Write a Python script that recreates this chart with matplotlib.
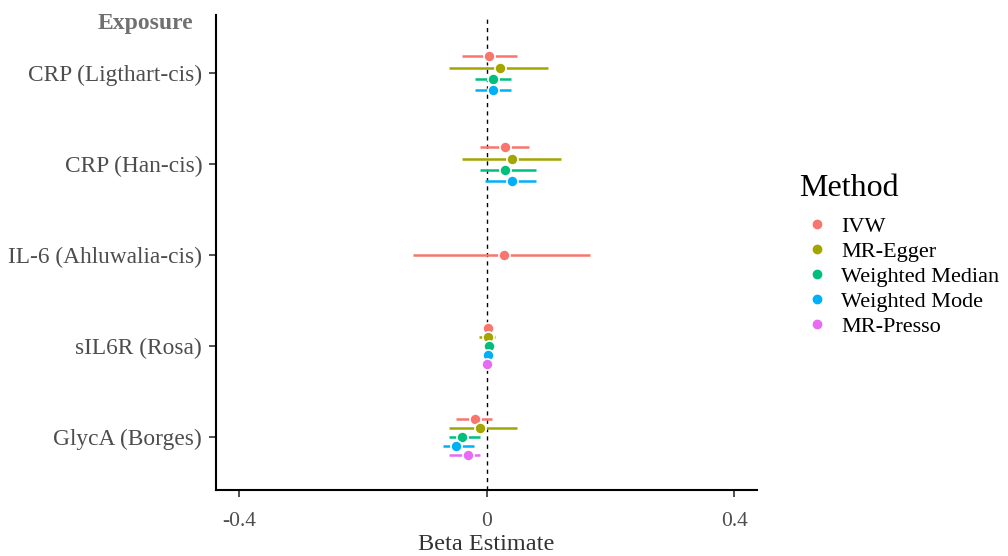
import matplotlib
matplotlib.use("Agg")
import matplotlib.pyplot as plt
from matplotlib.lines import Line2D
import numpy as np

plt.rcParams['font.family'] = ['Liberation Serif', 'DejaVu Serif']

# Datos
exposures = ["CRP (Ligthart-cis)", "CRP (Han-cis)", "IL-6 (Ahluwalia-cis)",
             "sIL6R (Rosa)", "GlycA (Borges)"]
methods = ["IVW", "MR-Egger", "Weighted Median", "Weighted Mode", "MR-Presso"]
colors = ["#F8766D", "#A3A500", "#00BF7D", "#00B0F6", "#E76BF3"]

# estimaciones por exposición (None = no disponible)
beta = {
    "CRP (Ligthart-cis)": [0.004, 0.021, 0.010, 0.010, None],
    "CRP (Han-cis)": [0.030, 0.041, 0.030, 0.041, None],
    "IL-6 (Ahluwalia-cis)": [0.029, None, None, None, None],
    "sIL6R (Rosa)": [0.002, 0.002, 0.004, 0.003, 0.001],
    "GlycA (Borges)": [-0.019, -0.010, -0.039, -0.050, -0.030],
}
lower = {
    "CRP (Ligthart-cis)": [-0.039, -0.060, -0.019, -0.019, None],
    "CRP (Han-cis)": [-0.011, -0.040, -0.011, -0.002, None],
    "IL-6 (Ahluwalia-cis)": [-0.119, None, None, None, None],
    "sIL6R (Rosa)": [-0.002, -0.012, -0.001, -0.002, -0.003],
    "GlycA (Borges)": [-0.050, -0.060, -0.060, -0.071, -0.060],
}
upper = {
    "CRP (Ligthart-cis)": [0.049, 0.100, 0.040, 0.040, None],
    "CRP (Han-cis)": [0.068, 0.120, 0.080, 0.080, None],
    "IL-6 (Ahluwalia-cis)": [0.167, None, None, None, None],
    "sIL6R (Rosa)": [0.006, 0.014, 0.008, 0.007, 0.005],
    "GlycA (Borges)": [0.009, 0.049, -0.011, -0.020, -0.011],
}

fig = plt.figure(figsize=(10.08, 5.56), dpi=100)
ax = fig.add_axes([0.2143, 0.1187, 0.5367, 0.8543])

dodge = 0.5
n_exp = len(exposures)
for i, e in enumerate(exposures):
    yc = n_exp - i
    idx = [k for k in range(len(methods)) if beta[e][k] is not None]
    n = len(idx)
    for j, k in enumerate(idx):
        y = yc + dodge / 2 - dodge / n * (j + 0.5) if n > 1 else yc
        ax.plot([lower[e][k], upper[e][k]], [y, y], color=colors[k], lw=1.8,
                solid_capstyle="butt", zorder=2)
        ax.plot(beta[e][k], y, "o", color=colors[k], ms=8,
                mec="white", mew=1.2, zorder=3)

ax.axvline(0, color="black", ls=(0, (3, 3)), lw=1, zorder=1)

ax.set_xlim(-0.437, 0.437)
ax.set_ylim(0.42, 5.64)
ax.set_xticks([-0.4, 0, 0.4])
ax.set_xticklabels(["-0.4", "0", "0.4"])
ax.set_yticks(np.arange(n_exp, 0, -1))
ax.set_yticklabels(exposures)
ax.tick_params(axis="both", labelcolor="#4D4D4D", length=5, width=1.2,
               color="#333333")
ax.tick_params(axis="x", labelsize=15.5, pad=11)
ax.tick_params(axis="y", labelsize=16.8, pad=5)
ax.spines["top"].set_visible(False)
ax.spines["right"].set_visible(False)
ax.spines["left"].set_linewidth(1.5)
ax.spines["bottom"].set_linewidth(1.5)
ax.set_xlabel("Beta Estimate", fontsize=17.5, color="#333333", labelpad=2)

fig.text(0.192, 0.958, "Exposure", fontsize=17, fontweight="bold",
         color="#707070", ha="right", va="center")

# Leyenda
fig.text(0.793, 0.661, "Method", fontsize=23, color="black",
         ha="left", va="center")
handles = [Line2D([], [], ls="", marker="o", color=c, ms=6) for c in colors]
leg = fig.legend(handles, methods, loc="upper left",
                 bbox_to_anchor=(0.797, 0.611), frameon=False, fontsize=16,
                 handletextpad=0.5, labelspacing=0.2, handlelength=1.2,
                 borderaxespad=0, borderpad=0)

fig.savefig("out.png", dpi=100)
